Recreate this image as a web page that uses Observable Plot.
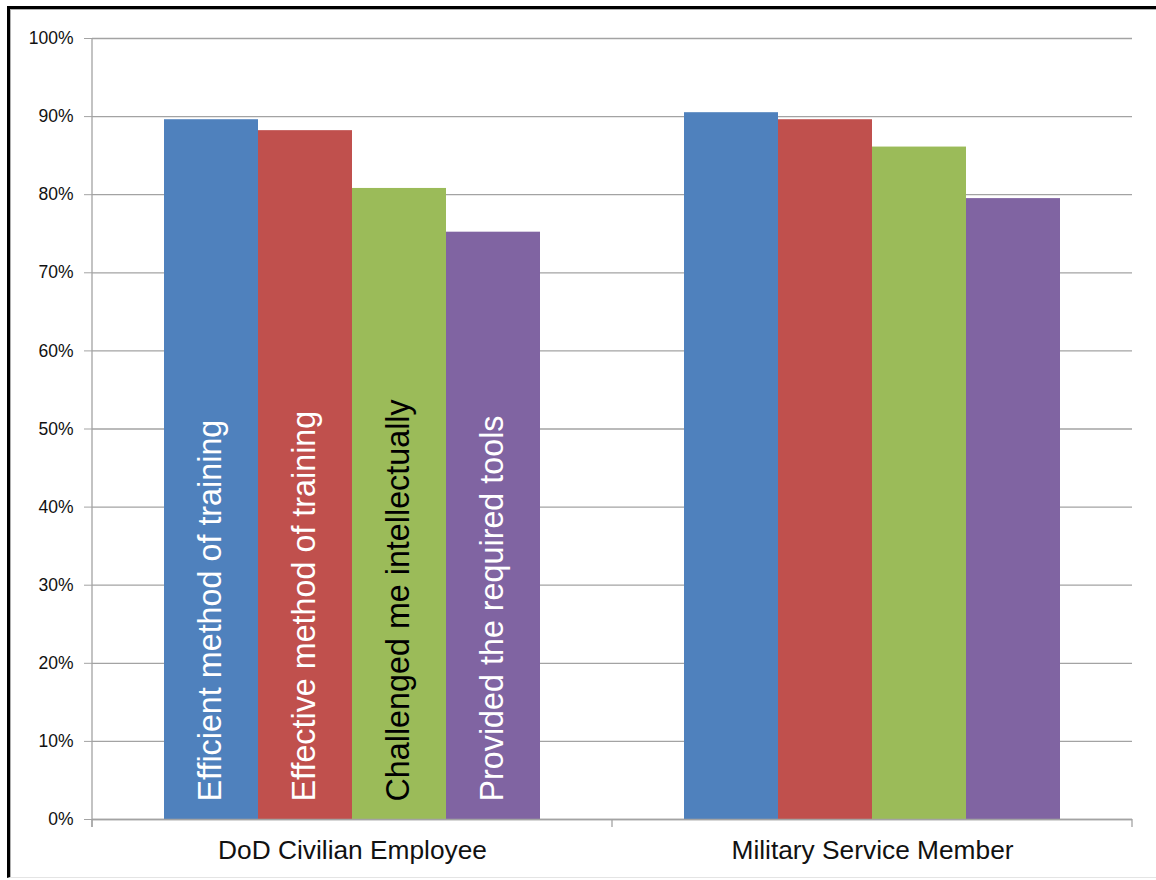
<!DOCTYPE html>
<html>
<head>
<meta charset="utf-8">
<script src="https://cdn.jsdelivr.net/npm/d3@7"></script>
<script src="https://cdn.jsdelivr.net/npm/@observablehq/plot@0.6"></script>
<style>
  html, body { margin: 0; padding: 0; background: #fff; }
  #wrap { position: relative; width: 1156px; height: 880px; overflow: hidden; background: #fff; }
  #border { position: absolute; left: 7px; top: 6px; right: -10px; bottom: 2px;
            border-left: 3px solid #000; border-top: 3px solid #000; border-bottom: 1px solid #e4e4e4;
            box-shadow: inset 1px 1px 0 #b0b0b0; }
  #chart { position: absolute; left: 0; top: 0; }
</style>
</head>
<body>
<div id="wrap">
  <div id="border"></div>
  <div id="chart"></div>
</div>
<script>
const groups = ["DoD Civilian Employee", "Military Service Member"];
const series = ["Efficient method of training", "Effective method of training", "Challenged me intellectually", "Provided the required tools"];
const civilianValues = [0.896, 0.882, 0.808, 0.752];
const militaryValues = [0.905, 0.896, 0.861, 0.795];
const seriesColors = ["#4F81BD", "#C0504D", "#9BBB59", "#8064A2"];
const darkLabelSeries = ["Challenged me intellectually"];
const yTicks = [0, 0.1, 0.2, 0.3, 0.4, 0.5, 0.6, 0.7, 0.8, 0.9, 1.0];

const rows = [];
series.forEach((s, i) => {
  rows.push({group: groups[0], series: s, value: civilianValues[i]});
  rows.push({group: groups[1], series: s, value: militaryValues[i]});
});
const labelRows = rows.filter(d => d.group === groups[0]);

const font = "'Liberation Sans', Arial, Helvetica, sans-serif";

const plot = Plot.plot({
  width: 1156,
  height: 880,
  marginLeft: 92,
  marginRight: 24,
  marginTop: 38,
  marginBottom: 61,
  style: {fontFamily: font, background: "transparent", color: "#000"},
  fx: {domain: groups, padding: 0, label: null},
  x: {domain: series, paddingInner: 0, paddingOuter: 0.76, axis: null},
  y: {domain: [0, 1], axis: null},
  color: {domain: series, range: seriesColors},
  marks: [
    Plot.gridY(yTicks, {stroke: "#a3a3a3", strokeOpacity: 1, strokeWidth: 1.3}),
    Plot.barY(rows, {fx: "group", x: "series", y: "value", fill: "series"}),
    Plot.ruleY([0], {stroke: "#a3a3a3", strokeWidth: 1.3}),
    Plot.axisY(yTicks, {
      tickFormat: d3.format(".0%"), tickSize: 8, tickPadding: 11,
      fontSize: 17.5, stroke: "#a3a3a3", fill: "#111", label: null
    }),
    Plot.axisFx({anchor: "bottom", tickSize: 0, tickPadding: 21, fontSize: 26.3, fill: "#111", label: null}),
    Plot.text(labelRows.filter(d => !darkLabelSeries.includes(d.series)), {
      fx: "group", x: "series", y: () => 0, text: "series",
      rotate: -90, textAnchor: "start", lineAnchor: "middle",
      dy: -18, dx: -1, fontSize: 32.3, fill: "white"
    }),
    Plot.text(labelRows.filter(d => darkLabelSeries.includes(d.series)), {
      fx: "group", x: "series", y: () => 0, text: "series",
      rotate: -90, textAnchor: "start", lineAnchor: "middle",
      dy: -18, dx: -1, fontSize: 32.3, fill: "black"
    })
  ]
});

// axis line and category boundary ticks, positioned from Plot's own scales
const fx = plot.scale("fx");
const y = plot.scale("y");
const svg = d3.select(plot);
const y0 = y.apply(0), y1 = y.apply(1);
const left = fx.apply(groups[0]);
const edges = [left, fx.apply(groups[1]), fx.apply(groups[1]) + fx.bandwidth];
const g = svg.append("g").attr("stroke", "#a3a3a3").attr("stroke-width", 1.3);
g.append("line").attr("x1", left).attr("x2", left).attr("y1", y1).attr("y2", y0 + 8);
edges.forEach(e => g.append("line").attr("x1", e).attr("x2", e).attr("y1", y0).attr("y2", y0 + 8));

document.getElementById("chart").appendChild(plot);
</script>
</body>
</html>
